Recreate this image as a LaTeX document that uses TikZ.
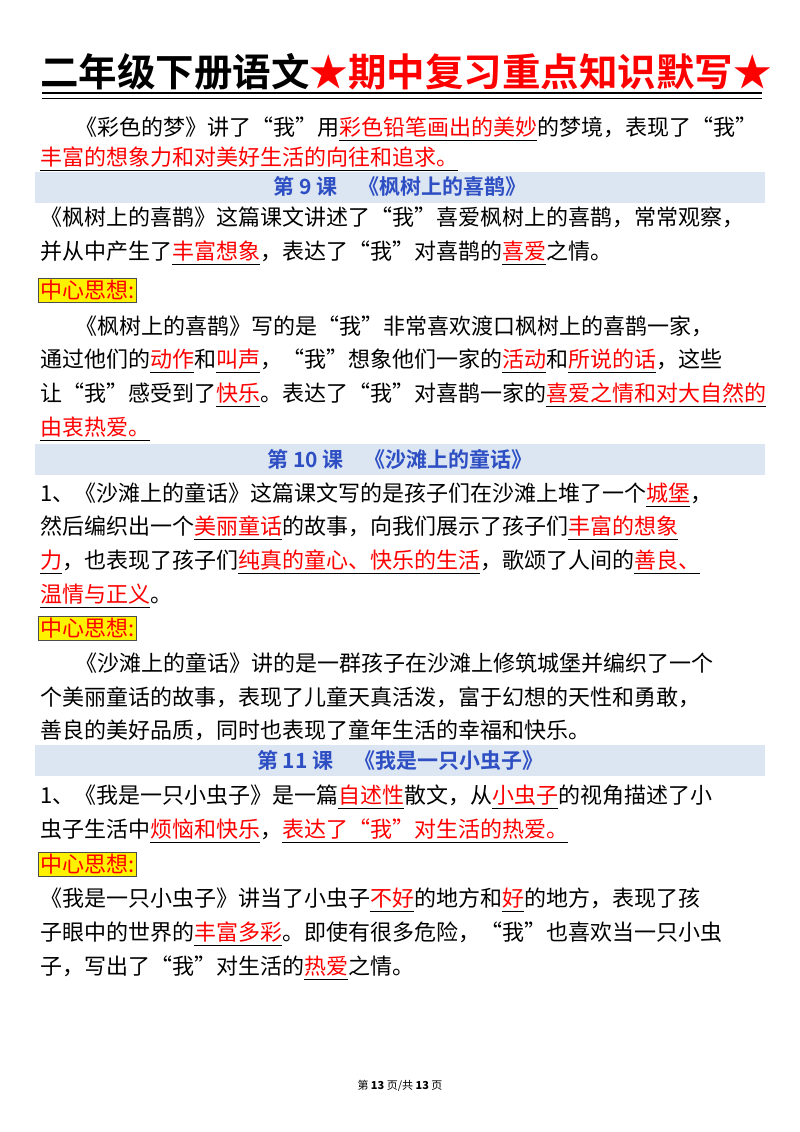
\documentclass[tikz,border=0pt]{standalone}
\usepackage{fontspec}
\setmainfont{Noto Sans CJK SC}
\newfontfamily\boldcjk{Noto Sans CJK SC Bold}
\definecolor{hdrband}{HTML}{DCE6F2}
\definecolor{hdrtext}{HTML}{2E4FC4}
\newcommand\hl[1]{\setbox0\hbox{\textcolor{red}{#1}}\rlap{\rule[-6pt]{\wd0}{0.9pt}}\box0}
\tikzset{
  ln/.style={anchor=base west,inner sep=0pt,font=\fontsize{22}{26}\selectfont},
  hdr/.style={fill=hdrband,minimum width=730pt,minimum height=31pt,inner sep=0pt,anchor=west,text=hdrtext,font=\boldcjk\fontsize{21}{24}\selectfont},
  keybox/.style={fill=yellow,draw=black!70,line width=0.6pt,anchor=west,inner sep=2pt,text=red,font=\fontsize{22}{24}\selectfont}
}
\begin{document}
\begin{tikzpicture}[x=1pt,y=-1pt]
\useasboundingbox (0,0) rectangle (800,1132);
\fill[white] (0,0) rectangle (800,1132);
\node[anchor=base west,inner sep=0pt,font=\boldcjk\fontsize{38.5}{40}\selectfont] (title) at (40,86) {二年级下册语文\textcolor{red}{★期中复习重点知识默写★}};
\draw[line width=1.4pt] (42,93) -- (762,93);
\draw[line width=1pt] (42,98) -- (762,98);
\node[ln] (l1) at (75,135) {《彩色的梦》讲了“我”用\hl{彩色铅笔画出的美妙}的梦境，表现了“我”};
\node[ln] (l2) at (40,165) {\hl{丰富的想象力和对美好生活的向往和追求。}};
\node[hdr] (h9) at (35,187) {第 9 课\quad 《枫树上的喜鹊》};
\node[ln] (a1) at (40,225) {《枫树上的喜鹊》这篇课文讲述了“我”喜爱枫树上的喜鹊，常常观察，};
\node[ln] (a2) at (40,259) {并从中产生了\hl{丰富想象}，表达了“我”对喜鹊的\hl{喜爱}之情。};
\node[keybox] (k1) at (38,290) {中心思想:};
\node[ln] (a3) at (75,334) {《枫树上的喜鹊》写的是“我”非常喜欢渡口枫树上的喜鹊一家，};
\node[ln] (a4) at (40,367) {通过他们的\hl{动作}和\hl{叫声}，“我”想象他们一家的\hl{活动}和\hl{所说的话}，这些};
\node[ln] (a5) at (40,401) {让“我”感受到了\hl{快乐}。表达了“我”对喜鹊一家的\hl{喜爱之情和对大自然的}};
\node[ln] (a6) at (40,435) {\hl{由衷热爱。}};
\node[hdr] (h10) at (35,459) {第 10 课\quad 《沙滩上的童话》};
\node[ln] (b1) at (40,501) {1、《沙滩上的童话》这篇课文写的是孩子们在沙滩上堆了一个\hl{城堡}，};
\node[ln] (b2) at (40,534) {然后编织出一个\hl{美丽童话}的故事，向我们展示了孩子们\hl{丰富的想象}};
\node[ln] (b3) at (40,568) {\hl{力}，也表现了孩子们\hl{纯真的童心、快乐的生活}，歌颂了人间的\hl{善良、}};
\node[ln] (b4) at (40,602) {\hl{温情与正义}。};
\node[keybox] (k2) at (38,628) {中心思想:};
\node[ln] (b5) at (75,671) {《沙滩上的童话》讲的是一群孩子在沙滩上修筑城堡并编织了一个};
\node[ln] (b6) at (40,705) {个美丽童话的故事，表现了儿童天真活泼，富于幻想的天性和勇敢，};
\node[ln] (b7) at (40,738) {善良的美好品质，同时也表现了童年生活的幸福和快乐。};
\node[hdr] (h11) at (35,760) {第 11 课\quad 《我是一只小虫子》};
\node[ln] (c1) at (40,803) {1、《我是一只小虫子》是一篇\hl{自述性}散文，从\hl{小虫子}的视角描述了小};
\node[ln] (c2) at (40,837) {虫子生活中\hl{烦恼和快乐}，\hl{表达了“我”对生活的热爱。}};
\node[keybox] (k3) at (38,864) {中心思想:};
\node[ln] (c3) at (40,906) {《我是一只小虫子》讲当了小虫子\hl{不好}的地方和\hl{好}的地方，表现了孩};
\node[ln] (c4) at (40,940) {子眼中的世界的\hl{丰富多彩}。即使有很多危险，“我”也喜欢当一只小虫};
\node[ln] (c5) at (40,974) {子，写出了“我”对生活的\hl{热爱}之情。};
\node[inner sep=0pt,font=\fontsize{11}{12}\selectfont] (foot) at (400,1086) {第 \textbf{13} 页/共 \textbf{13} 页};
\end{tikzpicture}
\end{document}
